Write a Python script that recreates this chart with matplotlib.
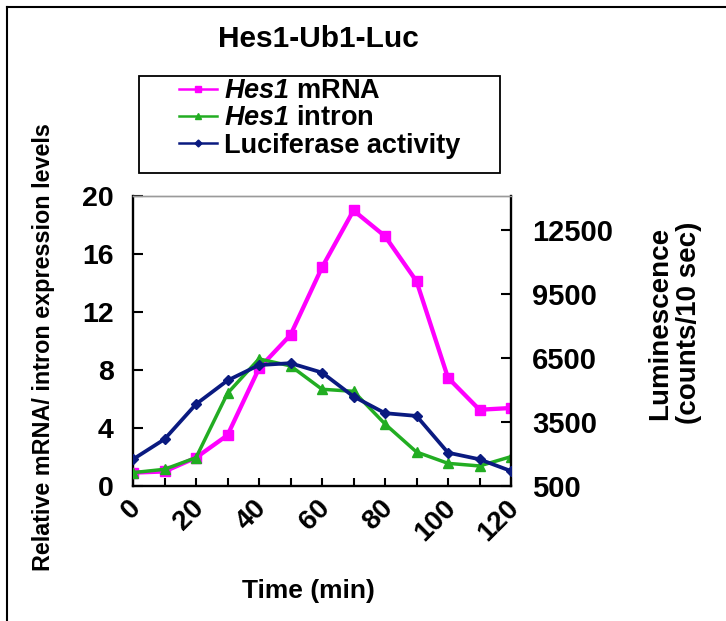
import matplotlib
matplotlib.use("Agg")
import matplotlib.pyplot as plt
import matplotlib.transforms as mtransforms
from matplotlib.lines import Line2D
from matplotlib.patches import Rectangle

plt.rcParams['font.family'] = ['Liberation Sans', 'DejaVu Sans']
plt.rcParams['font.weight'] = 'bold'
plt.rcParams['mathtext.fontset'] = 'custom'
plt.rcParams['mathtext.it'] = 'Liberation Sans:italic:bold'
plt.rcParams['mathtext.rm'] = 'Liberation Sans:italic:bold'

# time points (min)
time = [0, 10, 20, 30, 40, 50, 60, 70, 80, 90, 100, 110, 120]
# relative expression levels (left axis)
mrna = [0.92, 1.0, 1.95, 3.5, 8.1, 10.4, 15.05, 18.97, 17.2, 14.1, 7.45, 5.25, 5.37]
intron = [0.92, 1.15, 1.95, 6.38, 8.75, 8.27, 6.66, 6.52, 4.27, 2.34, 1.56, 1.38, 2.02]
# luminescence, counts/10 sec (right axis)
lum = [1750, 2690, 4330, 5440, 6160, 6250, 5810, 4690, 3910, 3780, 2060, 1750, 1200]

xticks = [0, 20, 40, 60, 80, 100, 120]
left_ticks = [0, 4, 8, 12, 16, 20]
right_ticks = [500, 3500, 6500, 9500, 12500]

c_mrna = '#ff00ff'
c_intron = '#22ad22'
c_luc = '#0a1a80'

W, H = 726, 621
fig = plt.figure(figsize=(W / 100, H / 100), dpi=100)

ax = fig.add_axes([133 / W, 1 - 486 / H, (511 - 133) / W, (486 - 195.5) / H])
ax2 = ax.twinx()

ax.plot(time, mrna, color=c_mrna, lw=3.1, marker='s', ms=6.5, zorder=3)
ax.plot(time, intron, color=c_intron, lw=2.5, marker='^', ms=7.5, zorder=4)
ax2.plot(time, lum, color=c_luc, lw=2.7, marker='D', ms=5, zorder=5)

ax.set_xlim(0, 120)
ax.set_ylim(0, 20)
ax2.set_ylim(500, 14100)

ax.set_xticks(xticks)
ax.set_xticks(time, minor=True)
ax.set_yticks(left_ticks)
ax2.set_yticks(right_ticks)

ax.tick_params(axis='x', which='both', direction='in', length=5.5, width=1.5,
               pad=13, labelsize=20)
ax.tick_params(axis='y', direction='in', length=7, width=1.5, pad=14, labelsize=20.5)
ax2.tick_params(axis='y', direction='in', length=7, width=1.5, pad=15, labelsize=21)

# nudge rotated time labels a little to the right, as in the original
shift = mtransforms.ScaledTranslation(0.04, 0, fig.dpi_scale_trans)
for lbl in ax.get_xticklabels():
    lbl.set_rotation(45)
    lbl.set_rotation_mode('anchor')
    lbl.set_ha('right')
    lbl.set_va('center')
    lbl.set_transform(lbl.get_transform() + shift)

for a in (ax, ax2):
    a.spines['top'].set_color('#9a9a9a')
    a.spines['top'].set_linewidth(1.0)
ax.spines['left'].set_linewidth(1.7)
ax.spines['bottom'].set_linewidth(1.7)
ax.spines['right'].set_visible(False)
ax2.spines['left'].set_visible(False)
ax2.spines['bottom'].set_visible(False)
ax2.spines['right'].set_linewidth(1.7)

# titles and axis labels
fig.text(318 / W, 1 - 47 / H, 'Hes1-Ub1-Luc', ha='center', va='baseline',
         fontsize=21.5, fontweight='bold')
fig.text(308 / W, 1 - 598 / H, 'Time (min)', ha='center', va='baseline',
         fontsize=19, fontweight='bold')
fig.text(44 / W, 1 - 347 / H, 'Relative mRNA/ intron expression levels',
         rotation=90, ha='center', va='center', fontsize=16.8, fontweight='bold')
fig.text(675 / W, 1 - 323 / H, 'Luminescence\n(counts/10 sec)', rotation=90,
         ha='center', va='center', multialignment='center', linespacing=1.15,
         fontsize=20, fontweight='bold')

# legend
handles = [
    Line2D([], [], color=c_mrna, lw=1.8, marker='s', ms=4.5),
    Line2D([], [], color=c_intron, lw=1.8, marker='^', ms=5),
    Line2D([], [], color=c_luc, lw=1.8, marker='D', ms=3.5),
]
labels = [r'$Hes1$ mRNA', r'$Hes1$ intron', 'Luciferase activity']
fig.legend(handles, labels, loc='upper left', bbox_to_anchor=(179 / W, 1 - 78 / H),
           frameon=False, borderpad=0, borderaxespad=0, handlelength=1.4,
           handletextpad=0.25, labelspacing=0.05, prop={'size': 19.5, 'weight': 'bold'})
fig.patches.append(Rectangle((139 / W, 1 - 172.6 / H), (500 - 139) / W, (172.6 - 76) / H,
                             transform=fig.transFigure, fill=False, ec='black', lw=1.3))

# outer frame (left and top edges)
fig.add_artist(Line2D([6.5 / W, 6.5 / W], [0, 1 - 6.5 / H], color='black', lw=1.5,
                      transform=fig.transFigure))
fig.add_artist(Line2D([6.5 / W, 1], [1 - 6.5 / H, 1 - 6.5 / H], color='black', lw=1.5,
                      transform=fig.transFigure))

fig.savefig('out.png', dpi=100)
